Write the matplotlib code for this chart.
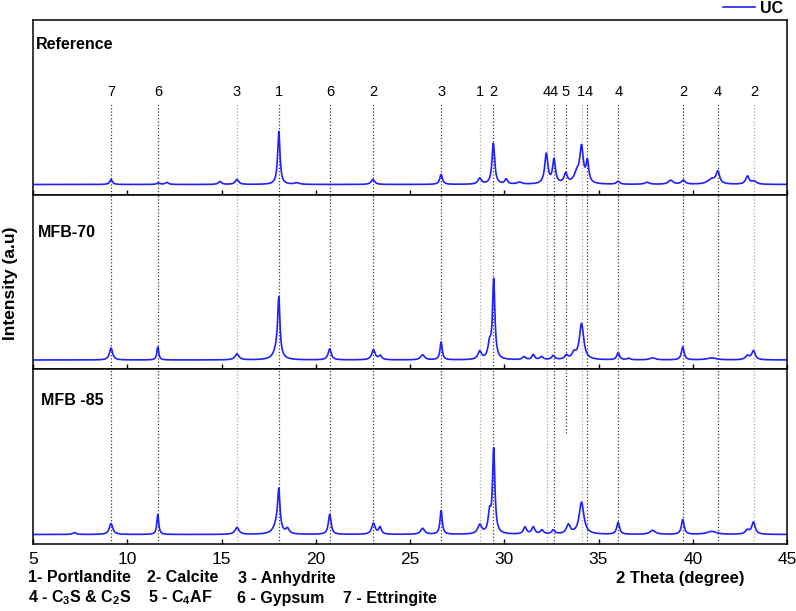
import numpy as np
import matplotlib
import matplotlib.pyplot as plt

matplotlib.use('Agg')

plt.rcParams['font.family'] = ['Liberation Sans', 'DejaVu Sans']
plt.rcParams['mathtext.fontset'] = 'custom'
plt.rcParams['mathtext.bf'] = 'Liberation Sans:bold'
plt.rcParams['mathtext.rm'] = 'Liberation Sans:bold'

# peak tables: position (2theta), height (a.u.), FWHM (deg)
ref_pos = [9.14, 11.65, 12.1, 14.92, 15.82, 18.04, 19.0, 23.03, 26.65, 28.70, 29.42, 30.10, 30.8,
           32.23, 32.64, 33.26, 33.85, 34.10, 34.41, 36.04, 37.57, 38.83, 39.50, 41.0, 41.33, 42.90, 43.25]
ref_h = [5, 1.5, 2, 3, 5, 53, 1.5, 5, 10, 6, 41, 5, 2,
         30, 24, 10, 10, 35, 21, 3, 2, 4, 4, 5, 12, 8, 3]
ref_w = [0.17, 0.2, 0.2, 0.2, 0.22, 0.15, 0.3, 0.22, 0.17, 0.22, 0.17, 0.17, 0.3,
         0.2, 0.18, 0.2, 0.35, 0.22, 0.17, 0.2, 0.3, 0.3, 0.25, 0.5, 0.22, 0.22, 0.3]

m70_pos = [9.14, 11.62, 15.82, 17.95, 18.04, 20.74, 23.06, 23.42, 25.67, 26.65, 28.70, 29.22, 29.44,
           31.05, 31.54, 31.98, 32.6, 33.3, 33.7, 34.10, 36.04, 36.6, 37.87, 39.47, 41.0, 42.9, 43.22]
m70_h = [12, 13, 6, 10, 55, 11, 10, 4, 5, 18, 8, 14, 79,
         3, 5, 3, 4, 4, 6, 36, 7, 1.5, 2, 13, 2, 4, 9]
m70_w = [0.2, 0.12, 0.25, 0.4, 0.14, 0.2, 0.22, 0.2, 0.25, 0.14, 0.22, 0.2, 0.15,
         0.2, 0.17, 0.2, 0.2, 0.2, 0.25, 0.27, 0.17, 0.2, 0.35, 0.17, 0.6, 0.25, 0.22]

m85_pos = [7.2, 9.14, 11.62, 15.82, 17.95, 18.04, 18.5, 20.74, 23.06, 23.41, 25.67, 26.65, 28.70,
           29.22, 29.44, 31.1, 31.54, 32.0, 32.6, 33.4, 34.10, 36.04, 37.87, 39.47, 41.0, 42.9, 43.22]
m85_h = [2, 11, 20, 7, 11, 37, 5, 20, 11, 7, 6, 24, 9,
         19, 84, 7, 7, 4, 4, 9, 32, 12, 4, 15, 3, 4, 12]
m85_w = [0.2, 0.22, 0.12, 0.25, 0.4, 0.14, 0.2, 0.17, 0.22, 0.17, 0.25, 0.14, 0.25,
         0.17, 0.15, 0.2, 0.2, 0.2, 0.2, 0.25, 0.3, 0.17, 0.35, 0.17, 0.6, 0.25, 0.22]

samples = ['Reference', 'MFB-70', 'MFB -85']
baselines = [10, 9, 9]

# phase markers
mark_pos = [9.14, 11.65, 15.82, 18.05, 20.76, 23.05, 26.66, 28.73, 29.40,
            32.25, 32.64, 33.26, 34.12, 34.41, 36.05, 39.50, 41.34, 43.27]
mark_lab = ['7', '6', '3', '1', '6', '2', '3', '1', '2',
            '4', '4', '5', '1', '4', '4', '2', '4', '2']
mark_dark = [1, 1, 0, 1, 1, 1, 1, 0, 1, 0, 1, 1, 0, 1, 1, 1, 1, 0]


def pattern(x, pos, h, w, base):
    y = np.full_like(x, base, dtype=float)
    for p, a, fw in zip(pos, h, w):
        y += a / (1 + ((x - p) / (fw / 2)) ** 2)
    return y


x = np.linspace(5, 45, 2001)
tables = [(ref_pos, ref_h, ref_w), (m70_pos, m70_h, m70_w), (m85_pos, m85_h, m85_w)]

fig = plt.figure(figsize=(7.96, 6.11), dpi=100)
left, width, height = 33 / 796, 754 / 796, 174.5 / 611
bottoms = [1 - 194.5 / 611, 1 - 369 / 611, 1 - 543.5 / 611]
label_y = [0.862, 0.78, 0.818]
label_x = [0.004, 0.007, 0.011]

axes = []
for i, (pos, h, w) in enumerate(tables):
    ax = fig.add_axes([left, bottoms[i], width, height])
    y = pattern(x, pos, h, w, baselines[i])
    line, = ax.plot(x, y, color='#1f1fff', lw=1.2)
    ax.set_xlim(5, 45)
    ax.set_ylim(0, 174.5)
    ax.set_yticks([])
    ax.set_xticks(range(5, 46, 5))
    ax.tick_params(axis='x', direction='in', length=3.5, width=1, labelsize=12.5, pad=6)
    if i < 2:
        ax.tick_params(axis='x', labelbottom=False)
    for s in ax.spines.values():
        s.set_linewidth(1.1)
    ax.text(label_x[i], label_y[i], samples[i], transform=ax.transAxes,
            fontsize=11.5, fontweight='bold', va='center', ha='left')
    for j, mx in enumerate(mark_pos):
        col = '#3a3a3a' if mark_dark[j] else '#a8a8a8'
        ymax = 0.524 if i == 0 else 1
        ymin = 0
        if i == 2 and mx == 33.26:
            ymin = 0.633
        ax.axvline(mx, ymin=ymin, ymax=ymax, color=col, ls=':', lw=0.9, zorder=0)
        if i == 0:
            # the "1" and "4" near 34 deg sit side by side, nudge them apart a little
            tx = mx - 0.07 if mx == 34.12 else (mx + 0.07 if mx == 34.41 else mx)
            ax.text(tx, 0.545 * 174.5, mark_lab[j], ha='center', va='bottom', fontsize=10.5)
    axes.append(ax)

axes[2].set_xticklabels([str(v) for v in range(5, 46, 5)])

fig.text(0.013, 1 - 283 / 611, 'Intensity (a.u)', rotation=90, fontsize=12.5,
         fontweight='bold', va='center', ha='center')
fig.text(745 / 796, 1 - 578 / 611, '2 Theta (degree)', fontsize=12, fontweight='bold',
         ha='right', va='center')

legend_items = [(28, 578, '1- Portlandite'), (147, 578, '2- Calcite'), (238, 578, '3 - Anhydrite'),
                (28, 598, r'4 - C$_\mathbf{3}$S & C$_\mathbf{2}$S'), (148, 598, r'5 - C$_\mathbf{4}$AF'),
                (237, 598, '6 - Gypsum'), (343, 598, '7 - Ettringite')]
for px, py, txt in legend_items:
    fig.text(px / 796, 1 - py / 611, txt, fontsize=11.5, fontweight='bold', ha='left', va='center')

fig.legend([line], ['UC'], loc='upper right', bbox_to_anchor=(783 / 796, 0.999),
           frameon=False, borderaxespad=0, borderpad=0, handlelength=2.0, handletextpad=0.3,
           prop={'weight': 'bold', 'size': 11.5})

fig.savefig('out.png', dpi=100)
